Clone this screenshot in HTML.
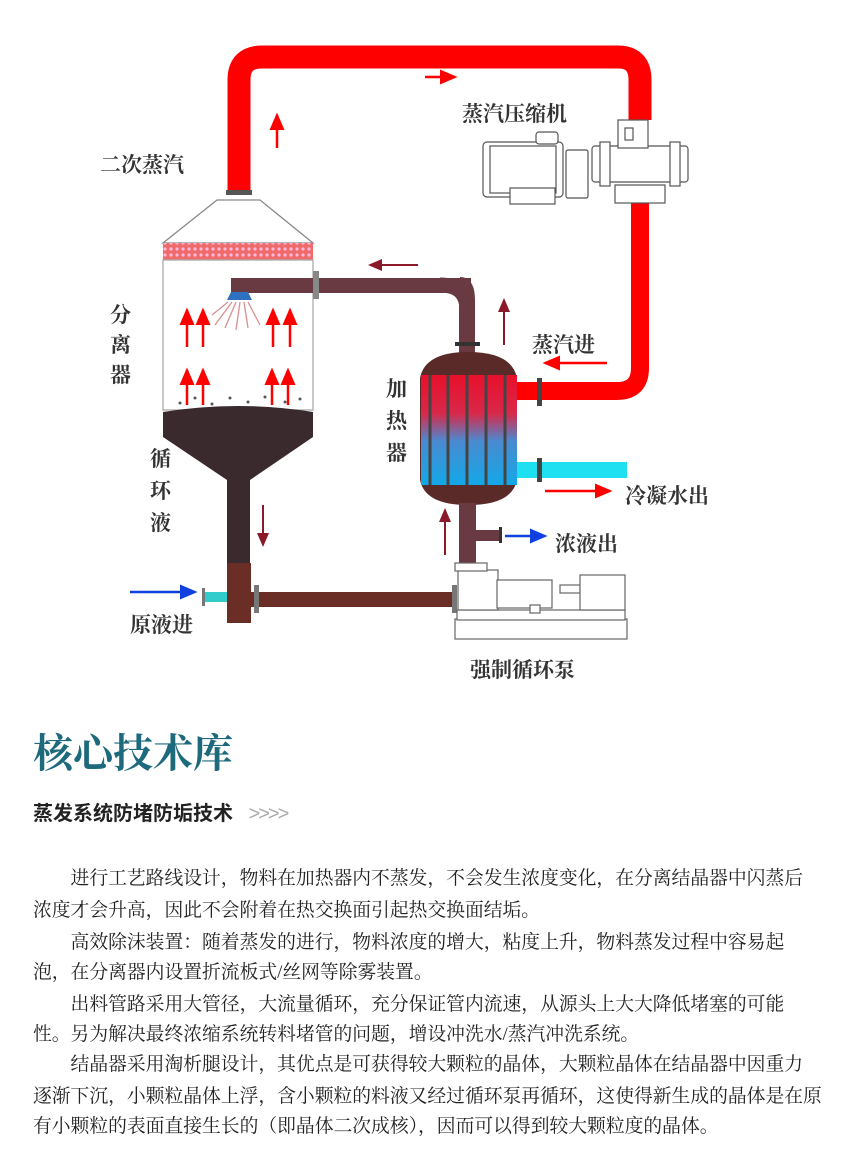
<!DOCTYPE html>
<html><head><meta charset="utf-8"><style>
body{margin:0;background:#fff;width:859px;height:1169px;overflow:hidden;position:relative;font-family:"Liberation Serif","Noto Serif CJK SC",serif}
svg{position:absolute;left:0;top:0}
.t{position:absolute;font-family:"Liberation Serif","Noto Serif CJK SC",serif}
.p{position:absolute;left:33px;width:775px;font-size:18.8px;color:#222;white-space:nowrap;font-family:"Liberation Serif","Noto Serif CJK SC",serif}
</style></head><body>
<svg width="859" height="700" viewBox="0 0 859 700">
<defs>
<linearGradient id="hg" x1="0" y1="0" x2="0" y2="1"><stop offset="0" stop-color="#e8102a"/><stop offset="0.35" stop-color="#d8284a"/><stop offset="0.6" stop-color="#4a8ad0"/><stop offset="1" stop-color="#12a8e8"/></linearGradient>
<pattern id="mesh" width="6" height="6" patternUnits="userSpaceOnUse"><rect width="6" height="6" fill="#f06a6a"/><circle cx="3" cy="3" r="1.6" fill="#fbd"/></pattern>
<marker id="ar" markerWidth="8" markerHeight="8" refX="6" refY="4" orient="auto"><path d="M0,1 L7,4 L0,7z" fill="#f00"/></marker>
<marker id="ad" markerWidth="8" markerHeight="8" refX="6" refY="4" orient="auto"><path d="M0,1 L7,4 L0,7z" fill="#8a1a2a"/></marker>
<marker id="ab" markerWidth="8" markerHeight="8" refX="6" refY="4" orient="auto"><path d="M0,1 L7,4 L0,7z" fill="#1040e0"/></marker>
</defs>
<path d="M239,195 L239,80 Q239,57 262,57 L618,57 Q640,57 640,80 L640,120" fill="none" stroke="#f00" stroke-width="23"/>
<path d="M640,185 L640,368 Q640,391 617,391 L517,391" fill="none" stroke="#f00" stroke-width="18"/>
<rect x="226" y="190" width="26" height="5" fill="#555"/>
<g fill="#fff" stroke="#555" stroke-width="1.2">
<rect x="483" y="142" width="80" height="55" rx="4"/><rect x="490" y="146" width="66" height="47"/>
<rect x="510" y="188" width="45" height="16"/><rect x="536" y="132" width="22" height="12" rx="3"/>
<rect x="566" y="150" width="22" height="48" rx="2"/>
<rect x="592" y="146" width="96" height="36" rx="3"/><rect x="600" y="142" width="10" height="44"/><rect x="670" y="142" width="10" height="44"/>
<rect x="618" y="120" width="30" height="28"/><rect x="625" y="128" width="8" height="12"/>
<rect x="615" y="185" width="50" height="18"/>
</g>
<path d="M217,200 L260,200 L313,243 L163,243 Z" fill="#fff" stroke="#888" stroke-width="1.3"/>
<rect x="163" y="243" width="150" height="17" fill="url(#mesh)"/>
<rect x="163" y="260" width="150" height="150" fill="#fff" stroke="#aaa" stroke-width="1.3"/>
<path d="M163,412 Q238,400 313,412 L313,437 L250,480 L250,565 L227,565 L227,480 L163,437 Z" fill="#3a2a2e"/>
<rect x="227" y="563" width="24" height="60" fill="#6a2e26"/>
<g fill="#555"><circle cx="180" cy="403" r="1.5"/><circle cx="195" cy="398" r="1.5"/><circle cx="212" cy="404" r="1.5"/><circle cx="230" cy="398" r="1.5"/><circle cx="248" cy="402" r="1.5"/><circle cx="265" cy="397" r="1.5"/><circle cx="285" cy="402" r="1.5"/><circle cx="300" cy="399" r="1.5"/></g>
<rect x="231" y="278" width="240" height="15" fill="#6a3a42"/>
<path d="M231,292 L248,292 L252,300 L227,300Z" fill="#3070c0"/>
<g stroke="#d89090" stroke-width="1.3" fill="none"><path d="M232,302 L215,325"/><path d="M236,302 L225,328"/><path d="M240,302 L236,330"/><path d="M244,302 L248,328"/><path d="M248,302 L260,325"/><path d="M228,302 L212,315"/></g>
<rect x="313" y="271" width="6" height="28" fill="#888"/>
<path d="M460,285 Q467,285 467,300 L467,355" fill="none" stroke="#6a3a42" stroke-width="16"/>
<path d="M440,285 Q467,285 467,310" fill="none" stroke="#6a3a42" stroke-width="15"/>
<rect x="455" y="342" width="25" height="4" fill="#333"/>
<path d="M420,378 Q425,352 468,352 Q512,352 517,378 L517,480 Q512,505 468,505 Q425,505 420,480Z" fill="#5a2a28"/>
<rect x="421" y="375" width="96" height="110" fill="url(#hg)"/>
<g stroke="#444" stroke-width="3"><line x1="430" y1="375" x2="430" y2="485"/><line x1="448" y1="375" x2="448" y2="485"/><line x1="467" y1="375" x2="467" y2="485"/><line x1="486" y1="375" x2="486" y2="485"/><line x1="505" y1="375" x2="505" y2="485"/></g>
<rect x="517" y="462" width="110" height="16" fill="#1ee0f0"/>
<rect x="537" y="378" width="5" height="28" fill="#444"/><rect x="537" y="458" width="5" height="24" fill="#444"/>
<rect x="459" y="503" width="17" height="60" fill="#6a3a42"/>
<rect x="476" y="530" width="24" height="11" fill="#6a3a42"/><rect x="499" y="527" width="3" height="16" fill="#333"/>
<rect x="250" y="592" width="205" height="15" fill="#6a2e26"/>
<rect x="254" y="585" width="5" height="28" fill="#777"/><rect x="452" y="585" width="5" height="28" fill="#777"/>
<rect x="204" y="592" width="23" height="10" fill="#3cc"/><rect x="202" y="588" width="3" height="18" fill="#777"/>
<g fill="#fff" stroke="#666" stroke-width="1.2">
<rect x="455" y="619" width="172" height="20"/><rect x="457" y="610" width="168" height="10"/>
<rect x="458" y="570" width="40" height="40"/><rect x="455" y="563" width="32" height="8"/>
<rect x="497" y="580" width="55" height="28"/><rect x="560" y="585" width="20" height="8"/>
<rect x="580" y="575" width="45" height="35"/><rect x="530" y="605" width="10" height="8"/>
</g>
<g stroke="#f00" stroke-width="2.5" marker-end="url(#ar)">
<line x1="277" y1="148" x2="277" y2="115"/><line x1="425" y1="77" x2="455" y2="77"/>
<line x1="187" y1="347" x2="187" y2="310"/><line x1="203" y1="347" x2="203" y2="310"/><line x1="273" y1="347" x2="273" y2="310"/><line x1="290" y1="347" x2="290" y2="310"/>
<line x1="187" y1="405" x2="187" y2="370"/><line x1="203" y1="405" x2="203" y2="370"/><line x1="272" y1="405" x2="272" y2="370"/><line x1="288" y1="405" x2="288" y2="370"/>
<line x1="607" y1="363" x2="545" y2="363"/><line x1="545" y1="491" x2="610" y2="491"/>
</g>
<g stroke="#8a1a2a" stroke-width="2" marker-end="url(#ad)">
<line x1="418" y1="265" x2="370" y2="265"/><line x1="504" y1="345" x2="504" y2="300"/>
<line x1="263" y1="505" x2="263" y2="545"/><line x1="445" y1="555" x2="445" y2="510"/>
</g>
<g stroke="#1040e0" stroke-width="2.5" marker-end="url(#ab)">
<line x1="505" y1="536" x2="545" y2="536"/><line x1="130" y1="592" x2="195" y2="592"/>
</g>
<g font-family="Liberation Serif,Noto Serif CJK SC,serif" font-size="21" font-weight="bold" fill="#333">
<text x="100" y="172">二次蒸汽</text><text x="462" y="121">蒸汽压缩机</text>
<text x="110" y="322">分</text><text x="110" y="352">离</text><text x="110" y="382">器</text>
<text x="150" y="466">循</text><text x="150" y="498">环</text><text x="150" y="530">液</text>
<text x="386" y="396">加</text><text x="386" y="428">热</text><text x="386" y="460">器</text>
<text x="532" y="352">蒸汽进</text><text x="625" y="503">冷凝水出</text><text x="555" y="551">浓液出</text>
<text x="130" y="632">原液进</text><text x="470" y="677">强制循环泵</text>
</g>
</svg>
<div class="t" style="left:33px;top:722px;font-size:40px;font-weight:bold;color:#1d6a7c">核心技术库</div>
<div class="t" style="left:33px;top:797px;font-size:20px;font-weight:bold;color:#222;font-family:'Liberation Sans','Noto Sans CJK SC',sans-serif">蒸发系统防堵防垢技术 <span style="color:#aaa;font-weight:normal;letter-spacing:-2px;margin-left:10px">&gt;&gt;&gt;&gt;</span></div>
<div class="p" style="top:863px">　　进行工艺路线设计，物料在加热器内不蒸发，不会发生浓度变化，在分离结晶器中闪蒸后</div>
<div class="p" style="top:895px">浓度才会升高，因此不会附着在热交换面引起热交换面结垢。</div>
<div class="p" style="top:927px">　　高效除沫装置：随着蒸发的进行，物料浓度的增大，粘度上升，物料蒸发过程中容易起</div>
<div class="p" style="top:957px">泡，在分离器内设置折流板式/丝网等除雾装置。</div>
<div class="p" style="top:989px">　　出料管路采用大管径，大流量循环，充分保证管内流速，从源头上大大降低堵塞的可能</div>
<div class="p" style="top:1019px">性。另为解决最终浓缩系统转料堵管的问题，增设冲洗水/蒸汽冲洗系统。</div>
<div class="p" style="top:1049px">　　结晶器采用淘析腿设计，其优点是可获得较大颗粒的晶体，大颗粒晶体在结晶器中因重力</div>
<div class="p" style="top:1081px">逐渐下沉，小颗粒晶体上浮，含小颗粒的料液又经过循环泵再循环，这使得新生成的晶体是在原</div>
<div class="p" style="top:1111px">有小颗粒的表面直接生长的（即晶体二次成核），因而可以得到较大颗粒度的晶体。</div>
</body></html>
